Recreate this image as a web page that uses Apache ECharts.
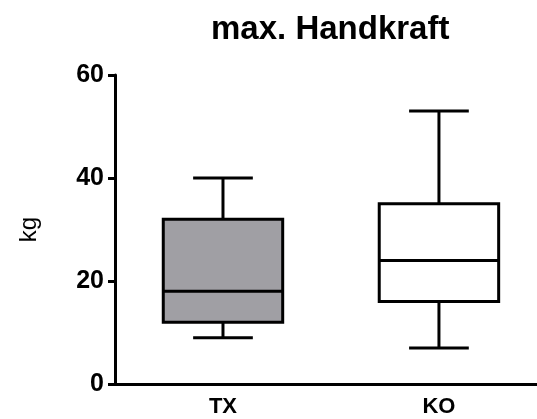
<!DOCTYPE html>
<html>
<head>
<meta charset="utf-8">
<script src="https://cdn.jsdelivr.net/npm/echarts@6/dist/echarts.min.js"></script>
<style>html,body{margin:0;padding:0;background:#fff;}#c{width:537px;height:419px;}</style>
</head>
<body>
<div id="c"></div>
<script>
const categories = ['TX', 'KO'];
const mins = [9, 7];
const q1s = [12, 16];
const medians = [18, 24];
const q3s = [32, 35];
const maxs = [40, 53];
const fills = ['#a09fa4', '#ffffff'];
const yTicks = [0, 20, 40, 60];

const data = categories.map((c, i) => [i, mins[i], q1s[i], medians[i], q3s[i], maxs[i]]);
const font = '"Liberation Sans", Arial, sans-serif';

const chart = echarts.init(document.getElementById('c'));
chart.setOption({
  animation: false,
  title: {
    text: 'max. Handkraft',
    left: 206, top: 8,
    textStyle: { fontFamily: font, fontSize: 33, fontWeight: 'bold', color: '#000' }
  },
  grid: { left: 115, right: 0, top: 75, bottom: 35 },
  xAxis: {
    type: 'value', min: -0.5, max: 1.454,
    axisLine: { show: true, onZero: false, lineStyle: { color: '#000', width: 3 } },
    axisTick: { show: false },
    splitLine: { show: false },
    axisLabel: { customValues: [0, 1], fontFamily: font, fontSize: 22, fontWeight: 'bold', color: '#000', margin: 12,
      formatter: v => categories[Math.round(v)] || '' }
  },
  yAxis: {
    type: 'value', min: 0, max: 60, interval: 20,
    name: 'kg', nameLocation: 'middle', nameGap: 74, nameRotate: 90,
    nameTextStyle: { fontFamily: font, fontSize: 24, color: '#000' },
    axisLine: { show: true, onZero: false, lineStyle: { color: '#000', width: 3 } },
    axisTick: { show: true, length: 7, lineStyle: { color: '#000', width: 3 } },
    splitLine: { show: false },
    axisLabel: { fontFamily: font, fontSize: 25, fontWeight: 'bold', color: '#000', margin: 11,
      formatter: v => yTicks.includes(v) ? String(v) : '' }
  },
  series: [{
    type: 'custom',
    data: data,
    clip: false,
    encode: { x: 0, y: [1, 2, 3, 4, 5] },
    renderItem: function (params, api) {
      const i = api.value(0);
      const pMin = api.coord([i, api.value(1)]);
      const pQ1 = api.coord([i, api.value(2)]);
      const pMed = api.coord([i, api.value(3)]);
      const pQ3 = api.coord([i, api.value(4)]);
      const pMax = api.coord([i, api.value(5)]);
      const unit = api.size([1, 0])[0];
      const bw = unit * 0.553;
      const cw = bw / 2;
      const x = pMed[0];
      const st = { stroke: '#000', lineWidth: 3, fill: null };
      return {
        type: 'group',
        children: [
          { type: 'line', shape: { x1: x, y1: pMax[1], x2: x, y2: pQ3[1] }, style: st },
          { type: 'line', shape: { x1: x, y1: pQ1[1], x2: x, y2: pMin[1] }, style: st },
          { type: 'line', shape: { x1: x - cw / 2, y1: pMax[1], x2: x + cw / 2, y2: pMax[1] }, style: st },
          { type: 'line', shape: { x1: x - cw / 2, y1: pMin[1], x2: x + cw / 2, y2: pMin[1] }, style: st },
          { type: 'rect', shape: { x: x - bw / 2, y: pQ3[1], width: bw, height: pQ1[1] - pQ3[1] },
            style: { stroke: '#000', lineWidth: 3, fill: fills[i] } },
          { type: 'line', shape: { x1: x - bw / 2, y1: pMed[1], x2: x + bw / 2, y2: pMed[1] }, style: st }
        ]
      };
    }
  }]
});
</script>
</body>
</html>
